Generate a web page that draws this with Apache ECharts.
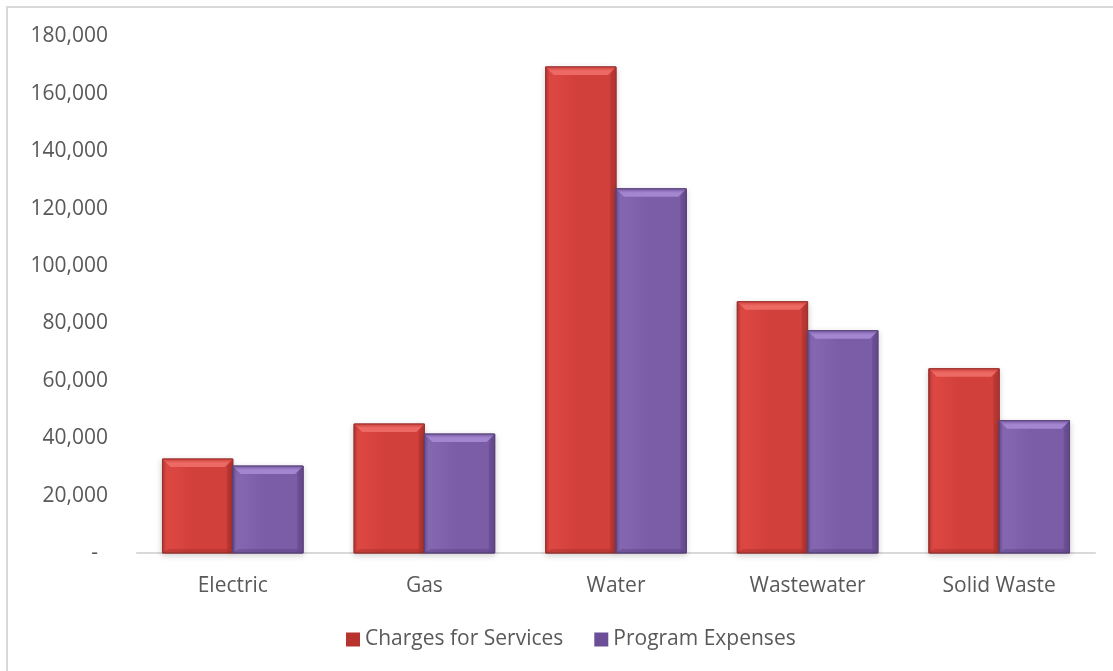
<!DOCTYPE html>
<html>
<head>
<meta charset="utf-8">
<title>Charges for Services vs Program Expenses</title>
<script src="https://cdn.jsdelivr.net/npm/echarts@6/dist/echarts.min.js"></script>
<style>
  html, body { margin: 0; padding: 0; background: #ffffff; }
  #chart { width: 1113px; height: 671px; }
</style>
</head>
<body>
<div id="chart"></div>
<script>
// Enterprise funds: charges for services compared with program expenses
const categories = ['Electric', 'Gas', 'Water', 'Wastewater', 'Solid Waste'];
const chargesForServices = [32750, 44950, 169400, 87550, 64200];
const programExpenses = [30300, 41450, 126900, 77450, 46100];
const yTicks = { min: 0, max: 180000, step: 20000 };

const FONT = '"Open Sans", "Noto Sans", sans-serif';
const TEXT = '#595959';
const FS = 21;

const palettes = {
  red: {
    base: '#D2403C', light: '#EC6A63', left: '#DE4843', right: '#B0332F', dark: '#8F2724',
    edge: '#9A3431'
  },
  purple: {
    base: '#7B5CA7', light: '#A386D0', left: '#8668B2', right: '#634889', dark: '#4D3670',
    edge: '#5A4379'
  }
};

function bodyGradient(p) {
  return new echarts.graphic.LinearGradient(0, 0, 1, 0, [
    { offset: 0, color: p.right },
    { offset: 0.06, color: p.left },
    { offset: 0.45, color: p.base },
    { offset: 0.9, color: p.base },
    { offset: 1, color: p.right }
  ]);
}

// Bevelled column drawn from the category/value scales
function bevelBar(slot, p) {
  return function (params, api) {
    const cat = api.value(0);
    const val = api.value(1);
    const base = api.coord([cat, 0]);
    const top = api.coord([cat, val]);
    const band = api.size([1, 0])[0];
    const w = band * 0.367;
    const x = slot === 0 ? base[0] - w : base[0];
    const y = top[1];
    const h = base[1] - top[1];
    const b = Math.min(8, h / 3);
    const x2 = x + w, y2 = y + h;
    return {
      type: 'group',
      children: [
        { type: 'rect', shape: { x: x, y: y, width: w, height: h },
          style: { fill: bodyGradient(p), stroke: p.edge, lineWidth: 1,
                   shadowBlur: 6, shadowColor: 'rgba(0,0,0,0.18)', shadowOffsetY: 2 } },
        { type: 'polygon', shape: { points: [[x, y], [x2, y], [x2 - b, y + b], [x + b, y + b]] },
          style: { fill: new echarts.graphic.LinearGradient(0, 0, 0, 1, [
            { offset: 0, color: p.base }, { offset: 0.5, color: p.light }, { offset: 1, color: p.light }]) } },
        { type: 'polygon', shape: { points: [[x2, y], [x2, y2], [x2 - b * 0.7, y2 - b * 0.5], [x2 - b * 0.7, y + b]] },
          style: { fill: p.right, opacity: 0.5 } },
        { type: 'polygon', shape: { points: [[x, y2], [x2, y2], [x2 - b * 0.7, y2 - b * 0.5], [x + b * 0.7, y2 - b * 0.5]] },
          style: { fill: p.dark, opacity: 0.3 } },
        { type: 'rect', shape: { x: x, y: y, width: w, height: h },
          style: { fill: 'none', stroke: p.edge, lineWidth: 1 } }
      ]
    };
  };
}

const chart = echarts.init(document.getElementById('chart'), null, { renderer: 'canvas' });

const option = {
  backgroundColor: '#ffffff',
  animation: false,
  graphic: [{
    type: 'rect',
    shape: { x: 7, y: 7, width: 1140, height: 700 },
    style: { fill: 'none', stroke: '#D9D9D9', lineWidth: 2 },
    silent: true, z: 0
  }],
  grid: { left: 137, right: 18, top: 36.5, bottom: 118 },
  legend: {
    left: 341, top: 624,
    itemWidth: 14, itemHeight: 14, itemGap: 31,
    icon: 'rect',
    textStyle: { fontFamily: FONT, fontSize: FS, color: TEXT },
    data: [
      { name: 'Charges for Services', itemStyle: { color: '#B8322E' } },
      { name: 'Program Expenses', itemStyle: { color: '#6B4E96' } }
    ]
  },
  xAxis: {
    type: 'category',
    data: categories,
    axisLine: { lineStyle: { color: '#D9D9D9', width: 2 } },
    axisTick: { show: false },
    axisLabel: { fontFamily: FONT, fontSize: FS, color: TEXT, margin: 23 }
  },
  yAxis: {
    type: 'value',
    min: yTicks.min, max: yTicks.max, interval: yTicks.step,
    axisLine: { show: false },
    axisTick: { show: false },
    splitLine: { show: false },
    axisLabel: {
      fontFamily: FONT, fontSize: FS, color: TEXT, margin: 29,
      formatter: function (v) {
        return v === 0 ? '{d|-}' : v.toLocaleString('en-US');
      },
      rich: { d: { fontFamily: FONT, fontSize: FS, color: TEXT, padding: [0, 10, 0, 0] } }
    }
  },
  series: [
    {
      name: 'Charges for Services',
      type: 'custom',
      itemStyle: { color: '#B8322E' },
      renderItem: bevelBar(0, palettes.red),
      encode: { x: 0, y: 1 },
      data: chargesForServices.map((v, i) => [i, v]),
      z: 2
    },
    {
      name: 'Program Expenses',
      type: 'custom',
      itemStyle: { color: '#6B4E96' },
      renderItem: bevelBar(1, palettes.purple),
      encode: { x: 0, y: 1 },
      data: programExpenses.map((v, i) => [i, v]),
      z: 2
    }
  ]
};

chart.setOption(option);
</script>
</body>
</html>
